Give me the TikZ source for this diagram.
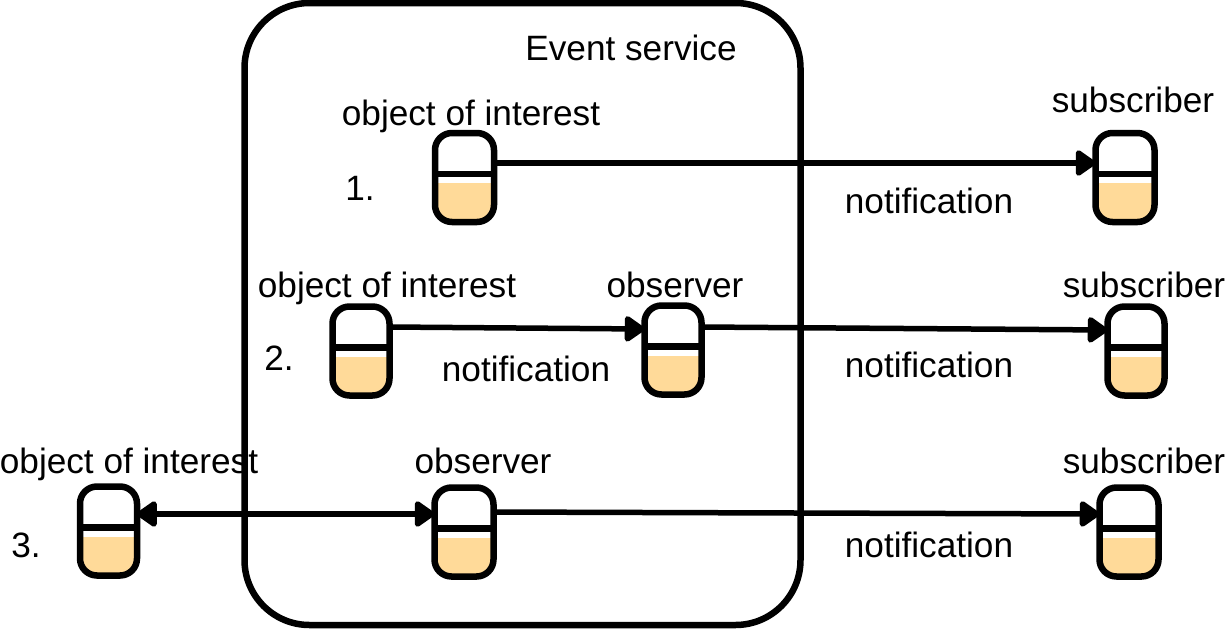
\documentclass[tikz,border=0pt]{standalone}
\usepackage{fontspec}
\setmainfont{Liberation Sans}
\usetikzlibrary{arrows.meta}
\definecolor{tank}{HTML}{FFDA99}
\tikzset{
  x=1pt,y=-1pt,
  frame/.style={draw=black,line width=6.5pt,rounded corners=65pt,minimum width=556pt,minimum height=622pt,inner sep=0pt,outer sep=0pt},
  obj/.style={draw=black,line width=6.5pt,rounded corners=17pt,minimum width=#1,minimum height=89pt,inner sep=0pt,outer sep=0pt,
    path picture={
      \begin{scope}[sharp corners]
      \fill[tank] ([yshift=-5.5pt]path picture bounding box.west) rectangle (path picture bounding box.south east);
      \draw[line width=6.5pt] ([yshift=3.5pt]path picture bounding box.west) -- ([yshift=3.5pt]path picture bounding box.east);
      \end{scope}
    }},
  obj/.default=57pt,
  lbl/.style={font=\fontsize{35.2pt}{40pt}\selectfont,inner sep=0pt,outer sep=0pt,anchor=base},
  conn/.style={line width=5.5pt,-{Triangle[length=22pt,width=29pt,round]}},
  conntwo/.style={line width=5.5pt,{Triangle[length=22pt,width=29pt,round]}-{Triangle[length=22pt,width=29pt,round]}}
}
\begin{document}
\begin{tikzpicture}
\useasboundingbox (0,0) rectangle (1227,630);
\node[frame] (es) at (522.5,314) {};
\node[obj=59pt] (o1) at (464.5,177.5) {};
\node[obj=59pt] (s1) at (1125,177.5) {};
\node[obj] (o2) at (361,351) {};
\node[obj] (ob2) at (673,350) {};
\node[obj] (s2) at (1136,351) {};
\node[obj] (o3) at (108.5,531) {};
\node[obj=59pt] (ob3) at (464,532) {};
\node[obj=59pt] (s3) at (1129,532) {};

\draw[conn] ([yshift=14.5pt]o1.east) -- ([yshift=14.5pt]s1.west);
\draw[conn] ([yshift=24pt]o2.east) -- ([yshift=21pt]ob2.west);
\draw[conn] ([yshift=23pt]ob2.east) -- ([yshift=21pt]s2.west);
\draw[conntwo] ([yshift=17pt]o3.east) -- ([yshift=18pt]ob3.west);
\draw[conn] ([yshift=20pt]ob3.east) -- ([yshift=18pt]s3.west);

\node[lbl] (t0) at (631,60) {Event service};
\node[lbl] (t1) at (471,125) {object of interest};
\node[lbl] (t2) at (387,297) {object of interest};
\node[lbl] (t3) at (129,473) {object of interest};
\node[lbl] (t4) at (675,297) {observer};
\node[lbl] (t5) at (483,473) {observer};
\node[lbl] (t6) at (1133,112) {subscriber};
\node[lbl] (t7) at (1144,297) {subscriber};
\node[lbl] (t8) at (1144,473) {subscriber};
\node[lbl] (t9) at (929,213) {notification};
\node[lbl] (t10) at (929,377) {notification};
\node[lbl] (t11) at (526,381) {notification};
\node[lbl] (t12) at (929,557) {notification};
\node[lbl] (t13) at (360,200) {1.};
\node[lbl] (t14) at (279,370) {2.};
\node[lbl] (t15) at (26,557) {3.};
\end{tikzpicture}
\end{document}
